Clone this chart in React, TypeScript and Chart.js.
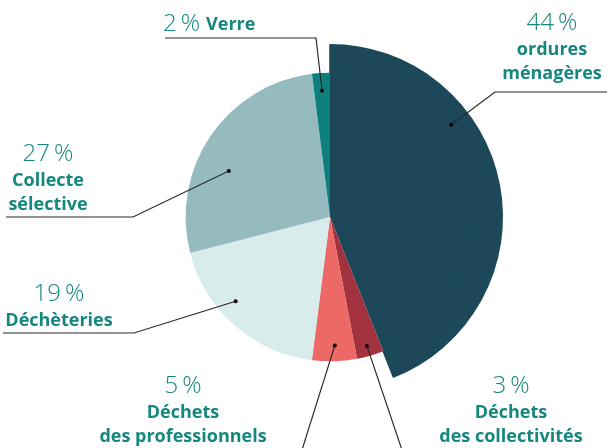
import React, { useEffect, useRef } from "react";
import { Chart, registerables } from "chart.js";

Chart.register(...registerables);

// ---- data ----
const CATEGORIES = [
  ["ordures", "ménagères"],
  ["Déchets", "des collectivités"],
  ["Déchets", "des professionnels"],
  ["Déchèteries"],
  ["Collecte", "sélective"],
  ["Verre"],
];
const VALUES = [44, 3, 5, 19, 27, 2];
const PCT_LABELS = ["44\u2009%", "3\u2009%", "5\u2009%", "19\u2009%", "27\u2009%", "2\u2009%"];

// ---- styles ----
const COLORS = ["#1c485a", "#a2323e", "#ec6965", "#d9ecec", "#96bbbe", "#0d7f7d"];
const TEXT_COLOR = "#14877f";
const LINE_COLOR = "#2a2a2a";

// label layout: anchor within slice (angle fraction, radius fraction of inner pie), leader path, text block
const LABEL_LAYOUT = [
  { frac: 0.333, rf: 1.055, path: [[495, 92], [607, 92]], tx: 552, ty: 23, inline: false },
  { frac: 0.52, rf: 0.93, path: [[402, 450]], tx: 511, ty: 386, inline: false },
  { frac: 0.48, rf: 0.89, path: [[302, 450]], tx: 183, ty: 386, inline: false },
  { frac: 0.6, rf: 0.876, path: [[134, 333], [3, 333]], tx: 59, ty: 294, inline: false },
  { frac: 0.4, rf: 0.77, path: [[133, 217], [6, 217]], tx: 48, ty: 154, inline: false },
  { frac: 0.5, rf: 0.876, path: [[316, 38], [165, 38]], tx: 163, ty: 24, inline: true },
];

const labelsPlugin = {
  id: "leaderLabels",
  afterDatasetsDraw(chart: any) {
    const ctx = chart.ctx;
    const meta = chart.getDatasetMeta(1);
    ctx.save();
    meta.data.forEach((arc: any, i: number) => {
      const L = LABEL_LAYOUT[i];
      const a = arc.startAngle + (arc.endAngle - arc.startAngle) * L.frac;
      const r = arc.outerRadius * L.rf;
      const ax = arc.x + Math.cos(a) * r;
      const ay = arc.y + Math.sin(a) * r;
      ctx.strokeStyle = LINE_COLOR;
      ctx.lineWidth = 1.2;
      ctx.beginPath();
      ctx.moveTo(ax, ay);
      L.path.forEach((p) => ctx.lineTo(p[0], p[1]));
      ctx.stroke();
      ctx.fillStyle = "#000";
      ctx.beginPath();
      ctx.arc(ax, ay, 2, 0, Math.PI * 2);
      ctx.fill();

      ctx.fillStyle = TEXT_COLOR;
      ctx.textBaseline = "middle";
      const pctFont = "300 24px 'Open Sans', 'Noto Sans', sans-serif";
      const boldFont = "700 18px 'Open Sans', 'Noto Sans', sans-serif";
      if (L.inline) {
        ctx.textAlign = "left";
        ctx.font = pctFont;
        ctx.fillText(PCT_LABELS[i], L.tx, L.ty);
        const w = ctx.measureText(PCT_LABELS[i]).width;
        ctx.font = boldFont;
        ctx.fillText(CATEGORIES[i][0], L.tx + w + 6, L.ty + 1);
      } else {
        ctx.textAlign = "center";
        ctx.font = pctFont;
        ctx.fillText(PCT_LABELS[i], L.tx, L.ty);
        ctx.font = boldFont;
        CATEGORIES[i].forEach((line, k) => {
          ctx.fillText(line, L.tx, L.ty + 27 + k * 24);
        });
      }
    });
    ctx.restore();
  },
};

export default function App() {
  const ref = useRef<HTMLCanvasElement>(null);
  useEffect(() => {
    if (!ref.current) return;
    const chart = new Chart(ref.current, {
      type: "pie",
      data: {
        labels: CATEGORIES.map((c) => c.join(" ")),
        datasets: [
          {
            data: VALUES,
            backgroundColor: COLORS.map((c, i) => (i === 0 ? c : "rgba(0,0,0,0)")),
            borderColor: COLORS.map((c, i) => (i === 0 ? c : "rgba(0,0,0,0)")),
            borderWidth: 1.5,
            weight: 28,
          } as any,
          {
            data: VALUES,
            backgroundColor: COLORS,
            borderWidth: 0,
            weight: 145,
          } as any,
        ],
      },
      options: {
        animation: false,
        responsive: false,
        layout: { padding: { left: 157, right: 104, top: 44, bottom: 58 } },
        plugins: { legend: { display: false }, tooltip: { enabled: false } },
      },
      plugins: [labelsPlugin],
    });
    return () => chart.destroy();
  }, []);
  return (
    <canvas
      ref={ref}
      width={607}
      height={448}
      style={{ position: "absolute", left: 0, top: 0, width: 607, height: 448 }}
    />
  );
}
